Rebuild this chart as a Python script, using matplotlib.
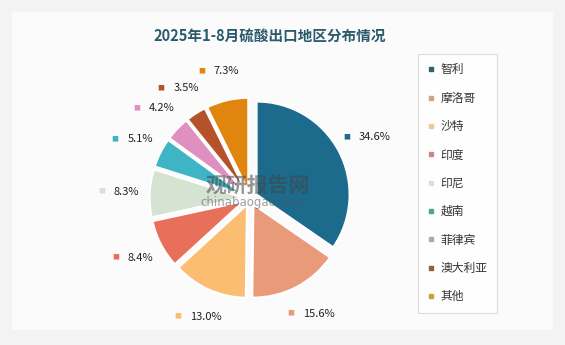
import numpy as np
import matplotlib
matplotlib.use("Agg")
from matplotlib import pyplot as plt
from matplotlib.lines import Line2D
from matplotlib.patches import Rectangle

plt.rcParams['font.family'] = ['Noto Sans CJK SC', 'DejaVu Sans']

# data
regions = ['智利', '摩洛哥', '沙特', '印度', '印尼', '越南', '菲律宾', '澳大利亚', '其他']
shares = [34.6, 15.6, 13.0, 8.4, 8.3, 5.1, 4.2, 3.5, 7.3]
colors = ['#1c6a8c', '#e99a78', '#fbbd72', '#e8705a', '#d6e3d3',
          '#3eb4c4', '#df8fc0', '#b4522a', '#e0860f']
legend_colors = ['#2f6272', '#c9a58a', '#ecc99a', '#c98a86', '#dddddd',
                 '#4aa59a', '#b9a3ad', '#8a6244', '#c9a33c']
title = '2025年1-8月硫酸出口地区分布情况'

W, H = 565, 345
fig = plt.figure(figsize=(W / 100, H / 100), dpi=100)
fig.patch.set_facecolor('#f3f3f3')
fig.patches.append(Rectangle((12 / W, 15 / H), 541 / W, 318 / H, transform=fig.transFigure,
                             facecolor='#fbfbfb', edgecolor='none', zorder=-5))

# pie axes: 1 unit = 93 px, centre at (250, 198) px
unit = 93
cx, cy = 250, 198
half = 1.6
ax = fig.add_axes([(cx - half * unit) / W, (H - cy - half * unit) / H,
                   2 * half * unit / W, 2 * half * unit / H])
ax.set_zorder(2)
wedges, _ = ax.pie(shares, colors=colors, startangle=90, counterclock=False,
                   explode=[0.08] * len(shares),
                   wedgeprops=dict(edgecolor='white', linewidth=1.5))
ax.set_xlim(-half, half)
ax.set_ylim(-half, half)
ax.axis('off')

# labels
for w, v, c in zip(wedges, shares, colors):
    ang = np.deg2rad((w.theta1 + w.theta2) / 2)
    r = 1.4
    x, y = r * np.cos(ang), r * np.sin(ang)
    ax.text(x - 0.2, y, '■', color=c, fontsize=5, ha='center', va='center')
    ax.text(x - 0.07, y, f'{v:.1f}%', color='#222222', fontsize=8,
            ha='left', va='center')

# watermark
ax.text(0.08, 0.14, '观研报告网', color='#444444', alpha=0.55, fontsize=15,
        fontweight='bold', ha='center', va='center')
ax.text(0.03, -0.05, 'chinabaogao.com', color='#555555', alpha=0.55, fontsize=8.5,
        ha='center', va='center', family='DejaVu Sans')

fig.text(270 / W, 1 - 37 / H, title, color='#2b5a6c', fontsize=10.5,
         fontweight='bold', ha='center', va='center')

handles = [Line2D([], [], marker='s', linestyle='none', markersize=3.5,
                  markerfacecolor=c, markeredgecolor=c) for c in legend_colors]
leg = fig.legend(handles, regions, loc='upper left',
                 bbox_to_anchor=(418 / W, 1 - 54 / H), frameon=True, fancybox=False,
                 fontsize=8.5, labelspacing=1.3, handlelength=0.6, handletextpad=0.5,
                 borderpad=0.8, borderaxespad=0)
leg.get_frame().set_edgecolor('#d5d5d5')
leg.get_frame().set_linewidth(0.8)
leg.get_frame().set_facecolor('white')
for t in leg.get_texts():
    t.set_color('#333333')

fig.savefig('out.png', dpi=100, facecolor=fig.get_facecolor())
